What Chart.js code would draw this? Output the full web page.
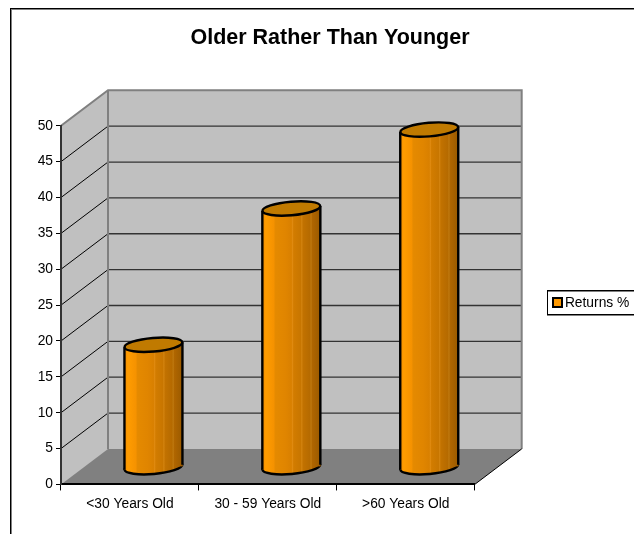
<!DOCTYPE html>
<html>
<head>
<meta charset="utf-8">
<script src="https://cdn.jsdelivr.net/npm/chart.js@4"></script>
<style>
  html, body { margin: 0; padding: 0; background: #fff; overflow: hidden; }
  canvas { display: block; }
</style>
</head>
<body>
<canvas id="chart" width="660" height="560"></canvas>
<script>
const categories = ["<30 Years Old", "30 - 59 Years Old", ">60 Years Old"];
const returns = [17, 36, 47];
const seriesName = "Returns %";

// excel style 3d depth
const depthX = 47;
const depthY = -35.5;
const capRadius = 6.8;
const capDrop = 1;
const font = "'Liberation Sans', Arial, sans-serif";

const bandStops = [
  [0, "#f08c00"], [0.06, "#ff9c00"], [0.2, "#f59200"], [0.22, "#e58a00"], [0.4, "#e08500"],
  [0.5, "#d98000"], [0.52, "#e08a10"], [0.54, "#d27c00"], [0.66, "#c87600"], [0.68, "#d48410"],
  [0.7, "#c27200"], [0.82, "#b56a00"], [0.84, "#c07a10"], [0.86, "#b06600"], [1, "#9a5a00"],
];

function sideGradient(ctx, x, half) {
  const g = ctx.createLinearGradient(x - half, 0, x + half, 0);
  bandStops.forEach((s) => g.addColorStop(s[0], s[1]));
  return g;
}

const walls = {
  id: "walls",
  beforeDraw(chart) {
    const { ctx, chartArea: a, scales } = chart;
    const y = scales.y;
    ctx.save();

    // outer frame, runs past the window like the reference
    ctx.strokeStyle = "#808080";
    ctx.strokeRect(11.5, 9.5, 640, 600);
    ctx.strokeStyle = "#000";
    ctx.strokeRect(10.5, 8.5, 640, 600);

    // side wall and back wall
    ctx.fillStyle = "#c0c0c0";
    ctx.beginPath();
    ctx.moveTo(a.left, a.top);
    ctx.lineTo(a.left + depthX, a.top + depthY);
    ctx.lineTo(a.right + depthX, a.top + depthY);
    ctx.lineTo(a.right + depthX, a.bottom + depthY);
    ctx.lineTo(a.left, a.bottom);
    ctx.closePath();
    ctx.fill();

    // floor
    ctx.fillStyle = "#808080";
    ctx.beginPath();
    ctx.moveTo(a.left, a.bottom);
    ctx.lineTo(a.left + depthX, a.bottom + depthY);
    ctx.lineTo(a.right + depthX, a.bottom + depthY);
    ctx.lineTo(a.right, a.bottom);
    ctx.closePath();
    ctx.fill();

    // grid lines
    y.ticks.forEach((t) => {
      if (t.value === 0 || t.value === y.max) return;
      const py = y.getPixelForValue(t.value);
      ctx.lineWidth = 1;
      ctx.strokeStyle = "#000";
      ctx.beginPath();
      ctx.moveTo(a.left, py);
      ctx.lineTo(a.left + depthX, py + depthY);
      ctx.stroke();
      ctx.strokeStyle = "#333";
      ctx.lineWidth = 1.3;
      ctx.beginPath();
      ctx.moveTo(a.left + depthX, py + depthY);
      ctx.lineTo(a.right + depthX, py + depthY);
      ctx.stroke();
    });

    // wall edges
    ctx.strokeStyle = "#808080";
    ctx.lineWidth = 2;
    ctx.beginPath();
    ctx.moveTo(a.left, a.top);
    ctx.lineTo(a.left + depthX, a.top + depthY);
    ctx.lineTo(a.right + depthX, a.top + depthY);
    ctx.lineTo(a.right + depthX, a.bottom + depthY);
    ctx.moveTo(a.left + depthX, a.top + depthY);
    ctx.lineTo(a.left + depthX, a.bottom + depthY);
    ctx.stroke();

    // floor front right edge
    ctx.strokeStyle = "#000";
    ctx.lineWidth = 1;
    ctx.beginPath();
    ctx.moveTo(a.right, a.bottom);
    ctx.lineTo(a.right + depthX, a.bottom + depthY);
    ctx.stroke();

    // legend box and swatch, the library leaves too wide a gap to the text
    ctx.lineWidth = 1;
    ctx.strokeStyle = "#808080";
    ctx.strokeRect(547.5, 291.5, 120, 24);
    ctx.strokeStyle = "#000";
    ctx.strokeRect(547.5, 290.5, 120, 24);
    ctx.fillStyle = "#ff9900";
    ctx.lineWidth = 2;
    ctx.fillRect(553, 298, 9, 9);
    ctx.strokeRect(553, 298, 9, 9);
    ctx.restore();
  },
};

const cylinders = {
  id: "cylinders",
  beforeDatasetDraw(chart, args) {
    const ctx = chart.ctx;
    ctx.save();
    ctx.translate(depthX / 2, depthY / 2);
    args.meta.data.forEach((el) => {
      const half = el.width / 2;
      const tilt = Math.atan(2.5 / half);
      const base = el.base + capDrop;
      ctx.fillStyle = sideGradient(ctx, el.x, half);
      // bottom cap
      ctx.beginPath();
      ctx.ellipse(el.x, base, half, capRadius, -tilt, 0, Math.PI * 2);
      ctx.fill();
      ctx.lineWidth = 2.4;
      ctx.strokeStyle = "#000";
      ctx.stroke();
      // side, follows the tilt of the caps
      ctx.beginPath();
      ctx.moveTo(el.x - half, el.y + 2.5);
      ctx.lineTo(el.x + half, el.y - 2.5);
      ctx.lineTo(el.x + half, base - 2.5);
      ctx.lineTo(el.x - half, base + 2.5);
      ctx.closePath();
      ctx.fill();
    });
  },
  afterDatasetDraw(chart, args) {
    const ctx = chart.ctx;
    args.meta.data.forEach((el) => {
      const half = el.width / 2;
      const tilt = Math.atan(2.5 / half);
      const base = el.base + capDrop;
      ctx.lineWidth = 2.4;
      ctx.strokeStyle = "#000";
      ctx.beginPath();
      ctx.moveTo(el.x - half, el.y + 2.5);
      ctx.lineTo(el.x - half, base + 2.5);
      ctx.moveTo(el.x + half, el.y - 2.5);
      ctx.lineTo(el.x + half, base - 2.5);
      ctx.stroke();
      // top cap
      ctx.fillStyle = "#c07a00";
      ctx.beginPath();
      ctx.ellipse(el.x, el.y, half, capRadius, -tilt, 0, Math.PI * 2);
      ctx.fill();
      ctx.stroke();
    });
    ctx.restore();
  },
  // put the title and legend where the reference has them
  afterLayout(chart) {
    chart.titleBlock.left = 0;
    chart.titleBlock.right = 660;
    const l = chart.legend;
    l.left = 548;
    l.right = 650;
    l.top = 291;
    l.bottom = 315;
  },
};

new Chart(document.getElementById("chart"), {
  type: "bar",
  plugins: [walls, cylinders],
  data: {
    labels: categories,
    datasets: [
      {
        label: seriesName,
        data: returns,
        barThickness: 58,
        borderWidth: 0,
        backgroundColor(c) {
          if (!c.chart.chartArea) return "#ff9900";
          const x = c.chart.scales.x.getPixelForValue(c.dataIndex);
          return sideGradient(c.chart.ctx, x, 29);
        },
      },
    ],
  },
  options: {
    responsive: false,
    animation: false,
    layout: { padding: { left: 0, right: 94, top: 0, bottom: 43 } },
    plugins: {
      tooltip: { enabled: false },
      title: {
        display: true,
        text: "Older Rather Than Younger",
        color: "#000",
        font: { family: font, size: 21.5, weight: "bold" },
        padding: { top: 25, bottom: 75 },
      },
      legend: {
        position: "right",
        labels: {
          color: "#000",
          font: { family: font, size: 13.8 },
          boxWidth: 4,
          boxHeight: 4,
          padding: 6,
          generateLabels: () => [
            { text: seriesName, fillStyle: "rgba(0,0,0,0)", strokeStyle: "rgba(0,0,0,0)", lineWidth: 0, datasetIndex: 0 },
          ],
        },
      },
    },
    scales: {
      x: {
        grid: { offset: true, drawOnChartArea: false, tickLength: 6, color: "#000" },
        border: { color: "#000", width: 2 },
        ticks: { color: "#000", font: { family: font, size: 13.8 }, padding: 5, maxRotation: 0 },
      },
      y: {
        min: 0,
        max: 50,
        afterFit(s) { s.width = 61; },
        grid: { drawOnChartArea: false, tickLength: 5, color: "#000" },
        border: { color: "#333", width: 2 },
        ticks: { stepSize: 5, color: "#000", font: { family: font, size: 13.8 }, padding: 3 },
      },
    },
  },
});
</script>
</body>
</html>
